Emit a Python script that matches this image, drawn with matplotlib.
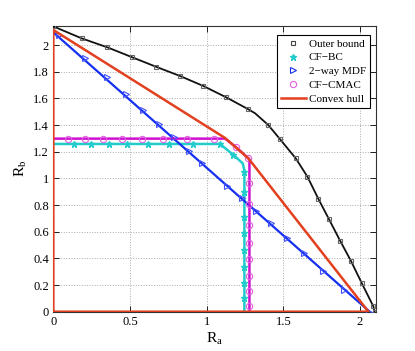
import matplotlib
matplotlib.use("Agg")
import matplotlib.pyplot as plt
from matplotlib.lines import Line2D

plt.rcParams['font.family'] = ['Liberation Serif', 'DejaVu Serif']
plt.rcParams['mathtext.fontset'] = 'custom'
plt.rcParams['mathtext.rm'] = 'Liberation Serif'
plt.rcParams['mathtext.it'] = 'Liberation Serif:italic'

# Outer bound
outer_x = [0.0, 0.185, 0.352, 0.515, 0.668, 0.826, 0.978, 1.127, 1.272, 1.316,
           1.402, 1.479, 1.581, 1.657, 1.729, 1.798, 1.870, 1.940, 2.012, 2.087, 2.095]
outer_y = [2.14, 2.05, 1.983, 1.908, 1.838, 1.768, 1.693, 1.608, 1.518, 1.488,
           1.40, 1.293, 1.150, 1.013, 0.845, 0.693, 0.533, 0.383, 0.213, 0.04, 0.0]
outer_marks = [0, 1, 2, 3, 4, 5, 6, 7, 8, 10, 11, 12, 13, 14, 15, 16, 17, 18, 19, 20]

# CF-BC
cfbc_line_x = [0.0, 1.087, 1.174, 1.235, 1.246, 1.246]
cfbc_line_y = [1.258, 1.258, 1.176, 1.113, 1.06, 0.0]
cfbc_mark_x = [0.135, 0.246, 0.363, 0.481, 0.616, 0.755, 0.913, 1.087, 1.174,
               1.246, 1.246, 1.246, 1.246, 1.246, 1.246, 1.246, 1.246]
cfbc_mark_y = [1.258, 1.258, 1.258, 1.258, 1.258, 1.258, 1.258, 1.258, 1.176,
               1.05, 0.90, 0.713, 0.593, 0.463, 0.338, 0.213, 0.10]

# 2-way MDF
mdf_line_x = [0.0, 2.063]
mdf_line_y = [2.095, 0.0]
mdf_mark_x = [0.04, 0.207, 0.348, 0.474, 0.587, 0.692, 0.787, 0.885, 0.972,
              1.135, 1.229, 1.322, 1.418, 1.526, 1.637, 1.757, 1.898, 2.061]
mdf_mark_y = [2.076, 1.905, 1.758, 1.631, 1.513, 1.406, 1.308, 1.208, 1.113,
              0.945, 0.851, 0.758, 0.663, 0.550, 0.438, 0.308, 0.163, 0.0]

# CF-CMAC
cmac_line_x = [0.0, 1.12, 1.19, 1.272, 1.279, 1.279]
cmac_line_y = [1.298, 1.298, 1.236, 1.15, 1.14, 0.0]
cmac_mark_x = [0.094, 0.207, 0.326, 0.45, 0.58, 0.717, 0.874, 1.048, 1.19, 1.272,
               1.279, 1.279, 1.279, 1.279, 1.279, 1.279, 1.279, 1.279]
cmac_mark_y = [1.298, 1.298, 1.298, 1.298, 1.298, 1.298, 1.298, 1.298, 1.236, 1.15,
               0.963, 0.806, 0.65, 0.518, 0.393, 0.268, 0.155, 0.043]

# Convex hull
hull_x = [0.0, 0.0, 1.12, 1.272, 2.055, 0.0]
hull_y = [0.0, 2.113, 1.303, 1.15, 0.0, 0.0]

x_ticks = [0, 0.5, 1, 1.5, 2]
y_ticks = [0, 0.2, 0.4, 0.6, 0.8, 1, 1.2, 1.4, 1.6, 1.8, 2]

c_black = '#111111'
c_cyan = '#22CCCC'
c_blue = '#1530F0'
c_mag = '#D010D0'
c_red = '#E2401E'

fig = plt.figure(figsize=(4.15, 3.51), dpi=100)
ax = fig.add_axes([0.1285, 0.112, 0.777, 0.814])

ax.plot(outer_x, outer_y, color=c_black, lw=1.3, marker='s', markevery=outer_marks,
        ms=3.5, mfc='none', mec='#666666', mew=0.8, zorder=3)
ax.plot(cfbc_line_x, cfbc_line_y, color=c_cyan, lw=1.8, zorder=3)
ax.plot(cfbc_mark_x, cfbc_mark_y, ls='none', marker='*', ms=4.5, color=c_cyan, zorder=4)
ax.plot(mdf_line_x, mdf_line_y, color=c_blue, lw=1.6, zorder=3)
ax.plot(mdf_mark_x, mdf_mark_y, ls='none', marker='>', ms=4, mfc='none',
        mec='#4050FF', mew=0.8, zorder=4)
ax.plot(cmac_line_x, cmac_line_y, color=c_mag, lw=1.8, zorder=3)
ax.plot(cmac_mark_x, cmac_mark_y, ls='none', marker='o', ms=4.5, mfc='none',
        mec='#E060E0', mew=0.8, zorder=4)
ax.plot(hull_x, hull_y, color=c_red, lw=1.8, zorder=5)

ax.set_xlim(0, 2.103)
ax.set_ylim(0, 2.143)
ax.set_xticks(x_ticks)
ax.set_xticklabels(['0', '0.5', '1', '1.5', '2'])
ax.set_yticks(y_ticks)
ax.set_yticklabels(['0', '0.2', '0.4', '0.6', '0.8', '1', '1.2', '1.4', '1.6', '1.8', '2'])
ax.tick_params(direction='in', top=True, right=True, labelsize=9, length=4, width=0.6, pad=3)
ax.grid(True, ls=':', color='#AAAAAA', lw=0.7)
for s in ax.spines.values():
    s.set_linewidth(0.8)
    s.set_color('#333333')

ax.set_xlabel(r'R$_\mathrm{a}$', fontsize=11, labelpad=2)
ax.set_ylabel(r'R$_\mathrm{b}$', fontsize=11, labelpad=3)

handles = [
    Line2D([], [], ls='none', marker='s', ms=3.5, mfc='none', mec='#444444', mew=0.8),
    Line2D([], [], ls='none', marker='*', ms=5, color=c_cyan),
    Line2D([], [], ls='none', marker='>', ms=4.5, mfc='none', mec=c_blue, mew=0.8),
    Line2D([], [], ls='none', marker='o', ms=4.5, mfc='none', mec='#E060E0', mew=0.8),
    Line2D([], [], color=c_red, lw=1.8),
]
labels = ['Outer bound', 'CF\u2212BC', '2\u2212way MDF', 'CF\u2212CMAC', 'Convex hull']
leg = ax.legend(handles, labels, loc='upper right', fontsize=8, frameon=True,
                fancybox=False, edgecolor='black', framealpha=1, handlelength=2.3,
                bbox_to_anchor=(370 / 415, 1 - 35 / 351), bbox_transform=fig.transFigure,
                borderaxespad=0, labelspacing=0.36, handletextpad=0.25, borderpad=0.35)
leg.get_frame().set_linewidth(0.8)

fig.savefig('out.png', dpi=100)
